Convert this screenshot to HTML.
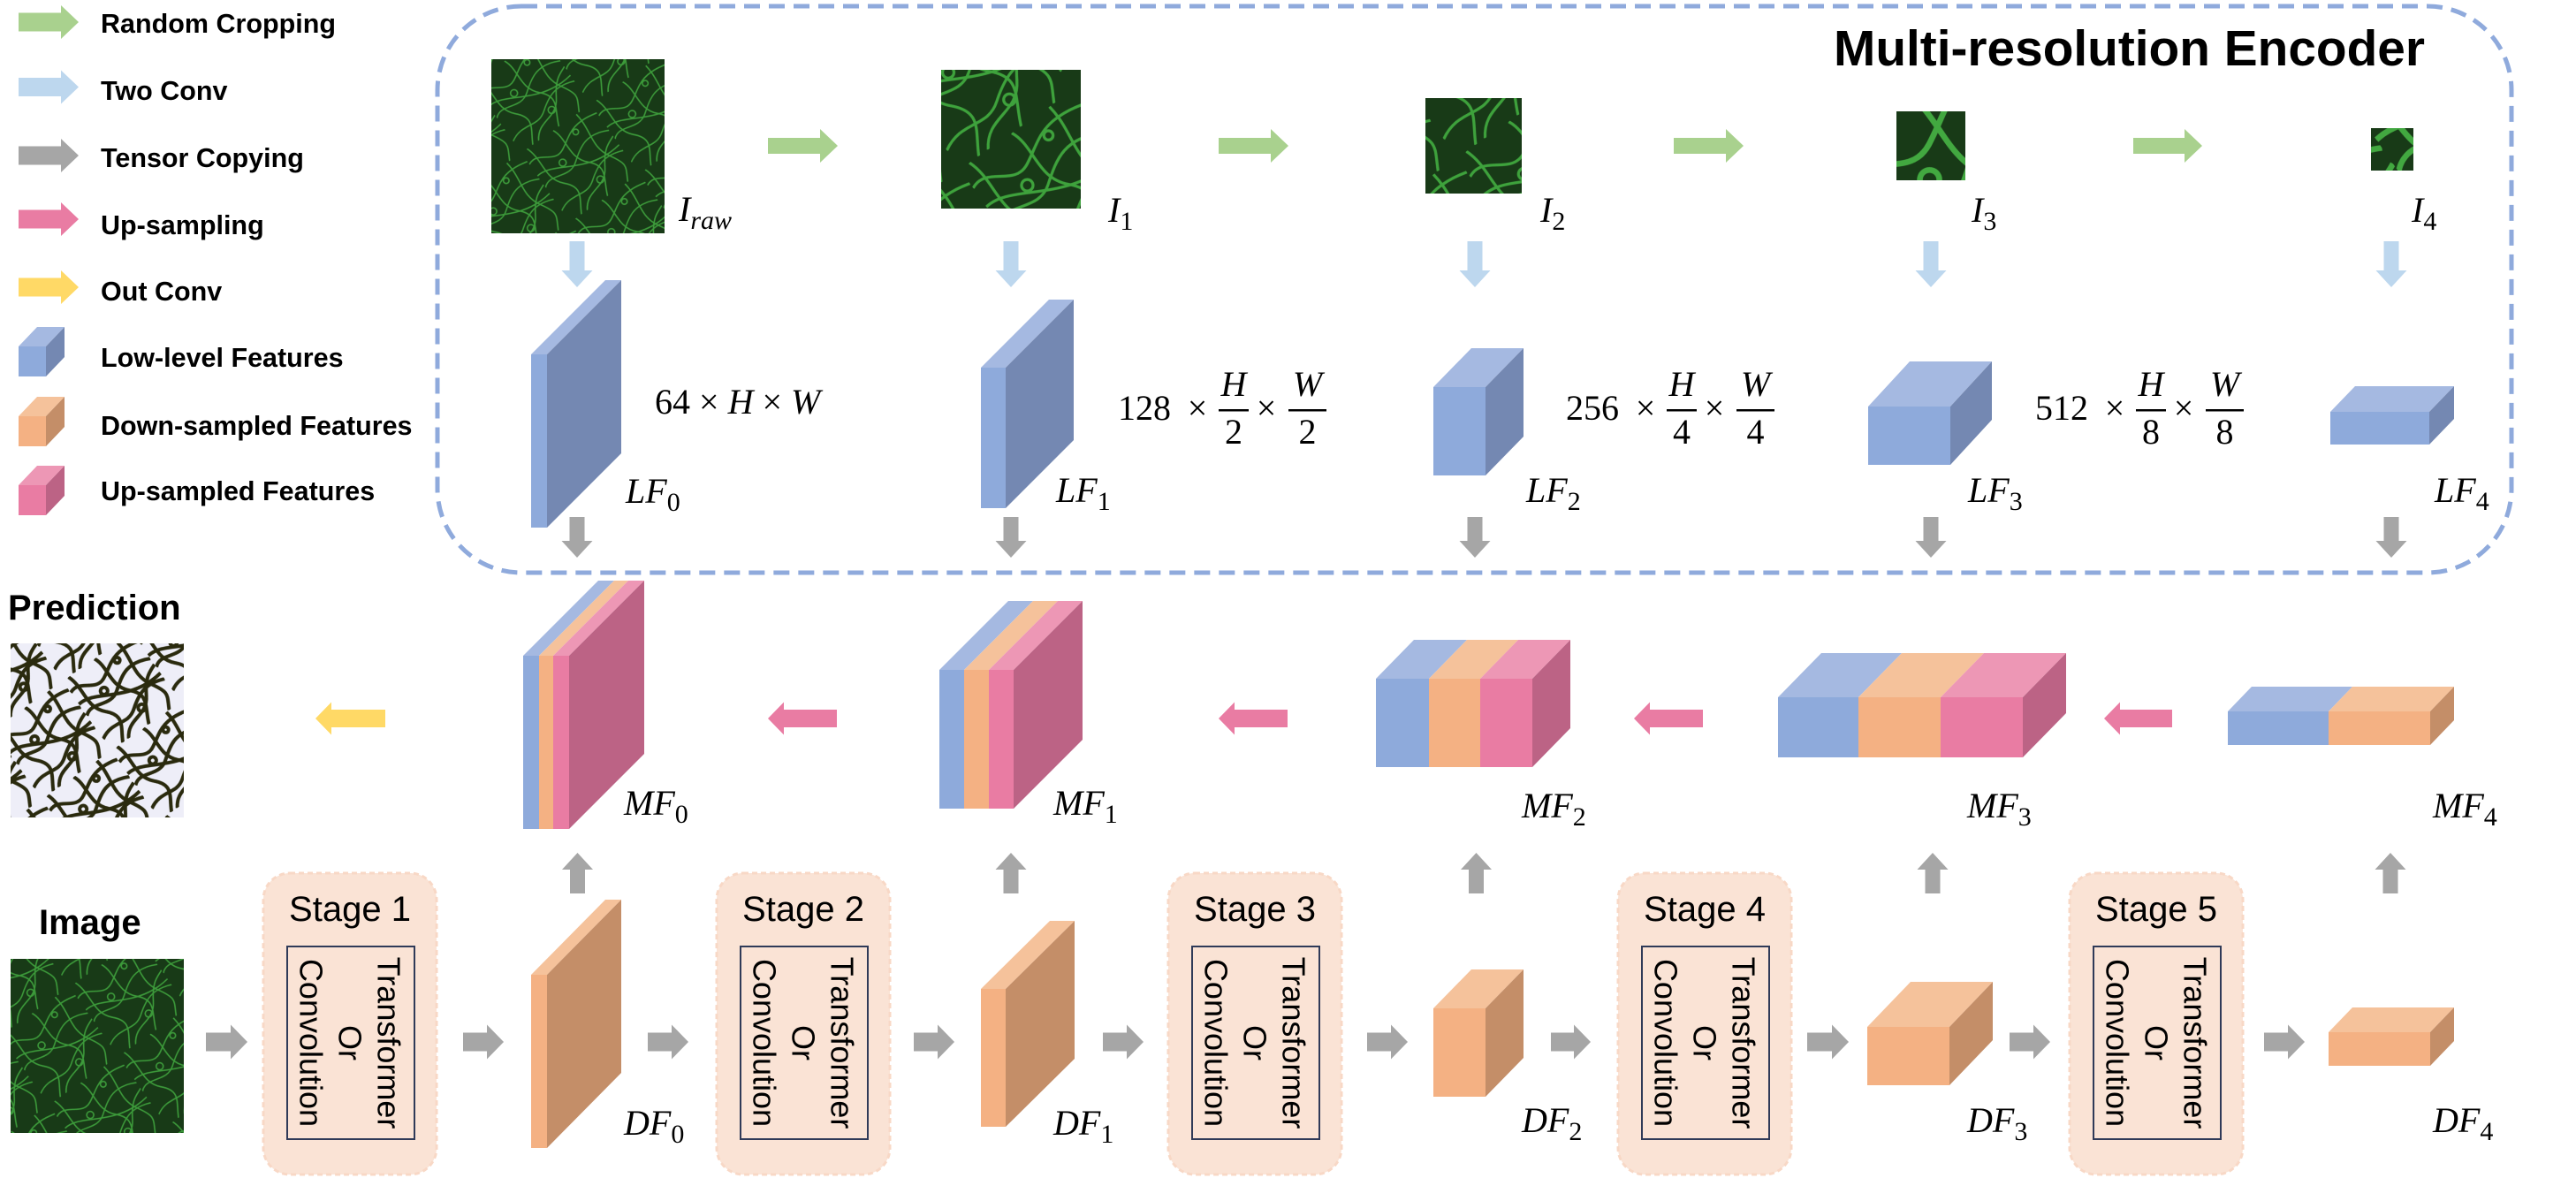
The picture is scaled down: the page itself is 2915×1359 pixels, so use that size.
<!DOCTYPE html>
<html><head><meta charset="utf-8"><style>
html,body{margin:0;padding:0;background:#fff;}
svg{display:block;}
.leg{font-family:"Liberation Sans",Arial,sans-serif;font-weight:bold;font-size:30.5px;fill:#000;}
.math{font-family:"Liberation Serif",serif;font-style:italic;font-size:40px;fill:#000;}
.num{font-family:"Liberation Serif",serif;font-size:40px;fill:#000;}
.stg{font-family:"Liberation Sans",Arial,sans-serif;font-size:40px;fill:#000;}
.vt{font-family:"Liberation Sans",Arial,sans-serif;font-size:36px;fill:#000;}
</style></head><body>
<svg id="fig" xmlns="http://www.w3.org/2000/svg" width="2915" height="1359" viewBox="0 0 2915 1359">
<defs>
<g id="strands">
<path d="M0 20 C20 10 30 40 50 30 S80 5 120 15" />
<path d="M0 60 C15 45 35 70 55 55 S90 30 120 45" />
<path d="M0 100 C25 85 40 105 60 90 S95 70 120 80" />
<path d="M10 0 C20 25 5 50 25 70 S30 100 20 120" />
<path d="M55 0 C65 20 50 45 70 65 S75 95 65 120" />
<path d="M95 0 C100 30 85 50 100 75 S110 100 100 120" />
<path d="M0 40 C30 35 60 80 120 70" />
<path d="M30 120 C45 95 70 110 85 85 S110 60 120 55" />
<circle cx="40" cy="45" r="5"/><circle cx="80" cy="20" r="4"/><circle cx="70" cy="95" r="5"/>
</g>
<pattern id="texA" patternUnits="userSpaceOnUse" width="120" height="120" patternTransform="rotate(-35) scale(0.8)">
<rect width="120" height="120" fill="#183a17"/>
<use href="#strands" fill="none" stroke="#3c9a3a" stroke-width="2"/>
</pattern>
<pattern id="texB" patternUnits="userSpaceOnUse" width="120" height="120" patternTransform="rotate(-35) scale(1.3)">
<rect width="120" height="120" fill="#183a17"/>
<use href="#strands" fill="none" stroke="#3ea23c" stroke-width="2.5"/>
</pattern>
<pattern id="texC" patternUnits="userSpaceOnUse" width="120" height="120" patternTransform="rotate(-35) scale(2.2)">
<rect width="120" height="120" fill="#183a17"/>
<use href="#strands" fill="none" stroke="#42a840" stroke-width="3"/>
</pattern>
<pattern id="texP" patternUnits="userSpaceOnUse" width="120" height="120" patternTransform="rotate(-35) scale(0.8)">
<rect width="120" height="120" fill="#eeeef8"/>
<use href="#strands" fill="none" stroke="#2a2a0e" stroke-width="5"/>
</pattern>
</defs>

<rect x="495" y="7" width="2347" height="641" rx="95" ry="95" fill="none" stroke="#8faadc" stroke-width="5" stroke-dasharray="18 10"/>
<text x="2075" y="74" font-family="Liberation Sans, Arial, sans-serif" font-weight="bold" font-size="57" textLength="669" lengthAdjust="spacingAndGlyphs">Multi-resolution Encoder</text>

<rect x="556" y="67" width="196" height="197" fill="url(#texA)"/>
<rect x="1065" y="79" width="158" height="157" fill="url(#texB)"/>
<rect x="1613" y="111" width="109" height="108" fill="url(#texB)"/>
<rect x="2146" y="126" width="78" height="78" fill="url(#texC)"/>
<rect x="2683" y="145" width="48" height="48" fill="url(#texC)"/>
<rect x="12" y="728" width="196" height="197" fill="url(#texP)"/>
<rect x="12" y="1085" width="196" height="197" fill="url(#texA)"/>

<text x="9" y="701" font-family="Liberation Sans, Arial, sans-serif" font-weight="bold" font-size="40">Prediction</text>
<text x="44" y="1057" font-family="Liberation Sans, Arial, sans-serif" font-weight="bold" font-size="40">Image</text>

<g id="legend-text" class="leg">
<text x="114" y="37">Random Cropping</text>
<text x="114" y="113">Two Conv</text>
<text x="114" y="189">Tensor Copying</text>
<text x="114" y="265">Up-sampling</text>
<text x="114" y="340">Out Conv</text>
<text x="114" y="415">Low-level Features</text>
<text x="114" y="492">Down-sampled Features</text>
<text x="114" y="566">Up-sampled Features</text>
</g>

<g id="dims">
<text class="num" x="741" y="468">64 × <tspan class="math">H</tspan> × <tspan class="math">W</tspan></text>
</g>
<g id="shapes"></g>
<g id="labels"></g>
</svg>
<script>
const NS = 'http://www.w3.org/2000/svg';
const shapes = document.getElementById('shapes');
const labels = document.getElementById('labels');
const dims = document.getElementById('dims');

const C = {
  blue: {front:'#8eaadb', top:'#a5b9e1', side:'#7488b2'},
  orange: {front:'#f4b183', top:'#f5c29b', side:'#c48e68'},
  pink: {front:'#e97ca3', top:'#ed97b5', side:'#bc6385'}
};

function poly(parent, pts, fill, name) {
  const p = document.createElementNS(NS, 'polygon');
  p.setAttribute('points', pts.map(q => q.join(',')).join(' '));
  p.setAttribute('fill', fill);
  
  
  parent.appendChild(p);
  return p;
}

function cube(name, x, y, widths, h, dx, dy, cols) {
  const g = document.createElementNS(NS, 'g');
  
  
  let cx = x;
  widths.forEach((w, i) => {
    const c = C[cols[i]];
    poly(g, [[cx, y], [cx + w, y], [cx + w, y + h], [cx, y + h]], c.front, 'cube-front-face');
    poly(g, [[cx, y], [cx + w, y], [cx + w + dx, y - dy], [cx + dx, y - dy]], c.top, 'cube-top-face');
    cx += w;
  });
  const last = C[cols[cols.length - 1]];
  poly(g, [[cx, y], [cx + dx, y - dy], [cx + dx, y + h - dy], [cx, y + h]], last.side, 'cube-side-face');
  shapes.appendChild(g);
}

function arrow(name, dir, a, b, c, H, S, L, fill) {
  let pts;
  if (dir === 'r') pts = [[a, c - S/2], [b - L, c - S/2], [b - L, c - H/2], [b, c], [b - L, c + H/2], [b - L, c + S/2], [a, c + S/2]];
  if (dir === 'l') pts = [[b, c - S/2], [a + L, c - S/2], [a + L, c - H/2], [a, c], [a + L, c + H/2], [a + L, c + S/2], [b, c + S/2]];
  if (dir === 'd') pts = [[c - S/2, a], [c - S/2, b - L], [c - H/2, b - L], [c, b], [c + H/2, b - L], [c + S/2, b - L], [c + S/2, a]];
  if (dir === 'u') pts = [[c - S/2, b], [c - S/2, a + L], [c - H/2, a + L], [c, a], [c + H/2, a + L], [c + S/2, a + L], [c + S/2, b]];
  poly(shapes, pts, fill, name);
}

function mlabel(name, x, y, main, sub, italicSub) {
  const t = document.createElementNS(NS, 'text');
  t.setAttribute('class', 'math');
  t.setAttribute('x', x);
  t.setAttribute('y', y);
  
  
  t.textContent = main;
  const s = document.createElementNS(NS, 'tspan');
  s.setAttribute('font-size', '30');
  s.setAttribute('dy', '9');
  if (!italicSub) s.setAttribute('font-style', 'normal');
  s.textContent = sub;
  t.appendChild(s);
  labels.appendChild(t);
}

function txt(parent, name, x, y, str, cls, anchor) {
  const t = document.createElementNS(NS, 'text');
  t.setAttribute('x', x);
  t.setAttribute('y', y);
  if (cls) t.setAttribute('class', cls);
  if (anchor) t.setAttribute('text-anchor', anchor);
  
  
  t.textContent = str;
  parent.appendChild(t);
  return t;
}

const legendArrowY = [25, 98.5, 176, 248, 325];
const legendArrowColors = ['#a9d18e', '#bdd7ee', '#a6a6a6', '#e97ca3', '#ffd966'];
legendArrowY.forEach((y, i) => arrow('legend-arrow', 'r', 21, 89, y, 38, 21, 20, legendArrowColors[i]));
cube('legend-cube-low-level', 21, 392, [31], 34, 21, 22, ['blue']);
cube('legend-cube-down-sampled', 21, 471, [31], 34, 21, 22, ['orange']);
cube('legend-cube-up-sampled', 21, 549, [31], 34, 21, 22, ['pink']);

[[869, 948], [1379, 1458], [1894, 1973], [2414, 2492]].forEach(p => arrow('random-crop-arrow', 'r', p[0], p[1], 165, 38, 18, 20, '#a9d18e'));
const colX = [653, 1144, 1669, 2185, 2706];
colX.forEach(x => arrow('two-conv-arrow', 'd', 273, 325, x, 35, 17, 19, '#bdd7ee'));
colX.forEach(x => arrow('copy-down-arrow', 'd', 585, 631, x, 35, 17, 19, '#a6a6a6'));

cube('lf0', 601, 401, [18], 196, 84, 84, ['blue']);
cube('lf1', 1110, 416, [28], 159, 77, 77, ['blue']);
cube('lf2', 1622, 438, [59], 100, 43, 44, ['blue']);
cube('lf3', 2114, 460, [93], 66, 47, 51, ['blue']);
cube('lf4', 2637, 466, [112], 37, 28, 29, ['blue']);

cube('mf0', 592, 742, [18, 16, 18], 196, 85, 85, ['blue', 'orange', 'pink']);
cube('mf1', 1063, 758, [28, 28, 28], 157, 78, 78, ['blue', 'orange', 'pink']);
cube('mf2', 1557, 768, [60, 58, 59], 100, 43, 44, ['blue', 'orange', 'pink']);
cube('mf3', 2012, 789, [91, 93, 93], 68, 49, 50, ['blue', 'orange', 'pink']);
cube('mf4', 2521, 805, [114, 115], 38, 27, 28, ['blue', 'orange']);
[[869, 947], [1379, 1457], [1849, 1927], [2381, 2458]].forEach(p => arrow('upsample-arrow', 'l', p[0], p[1], 813, 37, 20, 18, '#e97ca3'));
arrow('out-conv-arrow', 'l', 357, 436, 813, 37, 20, 18, '#ffd966');
[653.5, 1144, 1670.5, 2187, 2705].forEach(x => arrow('copy-up-arrow', 'u', 965, 1011, x, 35, 17, 19, '#a6a6a6'));

cube('df0', 601, 1103, [18], 196, 84, 85, ['orange']);
cube('df1', 1110, 1119, [28], 156, 78, 77, ['orange']);
cube('df2', 1622, 1141, [59], 100, 43, 44, ['orange']);
cube('df3', 2113, 1162, [93], 66, 49, 51, ['orange']);
cube('df4', 2635, 1168, [115], 38, 27, 28, ['orange']);
[[233, 280], [524, 570], [733, 779], [1034, 1080], [1248, 1294], [1547, 1593], [1755, 1800], [2045, 2092], [2274, 2320], [2562, 2608]]
  .forEach(p => arrow('forward-arrow', 'r', p[0], p[1], 1179, 39, 21, 19, '#a6a6a6'));

const stageX = [298, 811, 1322, 1831, 2342];
stageX.forEach((x, i) => {
  const g = document.createElementNS(NS, 'g');
  
  
  const r = document.createElementNS(NS, 'rect');
  r.setAttribute('x', x); r.setAttribute('y', 988); r.setAttribute('width', 196); r.setAttribute('height', 341);
  r.setAttribute('rx', 30); r.setAttribute('fill', '#fae3d5'); r.setAttribute('stroke', '#f8d8c6');
  r.setAttribute('stroke-width', '3'); r.setAttribute('stroke-dasharray', '6 4');
  
  
  g.appendChild(r);
  const inner = document.createElementNS(NS, 'rect');
  inner.setAttribute('x', x + 27); inner.setAttribute('y', 1071); inner.setAttribute('width', 144); inner.setAttribute('height', 218);
  inner.setAttribute('fill', 'none'); inner.setAttribute('stroke', '#2f3a58'); inner.setAttribute('stroke-width', '2');
  
  
  g.appendChild(inner);
  txt(g, 'stage-title', x + 98, 1042, 'Stage ' + (i + 1), 'stg', 'middle');
  const cxm = x + 98, cym = 1180;
  [['Transformer', 44], ['Or', 0], ['Convolution', -44]].forEach(l => {
    const t = txt(g, 'stage-block-text', 0, 0, l[0], 'vt', 'middle');
    t.setAttribute('transform', 'translate(' + (cxm + l[1]) + ',' + cym + ') rotate(90)');
    t.setAttribute('dominant-baseline', 'central');
  });
  shapes.appendChild(g);
});

mlabel('label-i-raw', 768, 250, 'I', 'raw', true);
[['label-i1', 1254, '1'], ['label-i2', 1743, '2'], ['label-i3', 2231, '3'], ['label-i4', 2729, '4']].forEach(l => mlabel(l[0], l[1], 251, 'I', l[2], false));
[[708, 569], [1195, 568], [1727, 568], [2227, 568], [2755, 568]].forEach((p, i) => mlabel('label-lf' + i, p[0], p[1], 'LF', String(i), false));
[[706, 922], [1192, 922], [1722, 925], [2226, 925], [2753, 925]].forEach((p, i) => mlabel('label-mf' + i, p[0], p[1], 'MF', String(i), false));
[[706, 1284], [1192, 1284], [1722, 1281], [2226, 1281], [2753, 1281]].forEach((p, i) => mlabel('label-df' + i, p[0], p[1], 'DF', String(i), false));

[[1265, '128', '2'], [1772, '256', '4'], [2303, '512', '8']].forEach((d, i) => {
  const x0 = d[0];
  const g = document.createElementNS(NS, 'g');
  
  
  txt(g, 'dim-channels', x0, 475, d[1], 'num');
  txt(g, 'dim-times', x0 + 90, 475, '×', 'num', 'middle');
  txt(g, 'dim-times', x0 + 168, 475, '×', 'num', 'middle');
  [[114, 148, 'H'], [193, 236, 'W']].forEach(f => {
    const bar = document.createElementNS(NS, 'rect');
    bar.setAttribute('x', x0 + f[0]); bar.setAttribute('y', 463); bar.setAttribute('width', f[1] - f[0]); bar.setAttribute('height', 2.5);
    bar.setAttribute('fill', '#000');
    
    
    g.appendChild(bar);
    txt(g, 'fraction-numerator', x0 + (f[0] + f[1]) / 2, 448, f[2], 'math', 'middle');
    txt(g, 'fraction-denominator', x0 + (f[0] + f[1]) / 2, 502, d[2], 'num', 'middle');
  });
  dims.appendChild(g);
});
</script>
</body></html>
